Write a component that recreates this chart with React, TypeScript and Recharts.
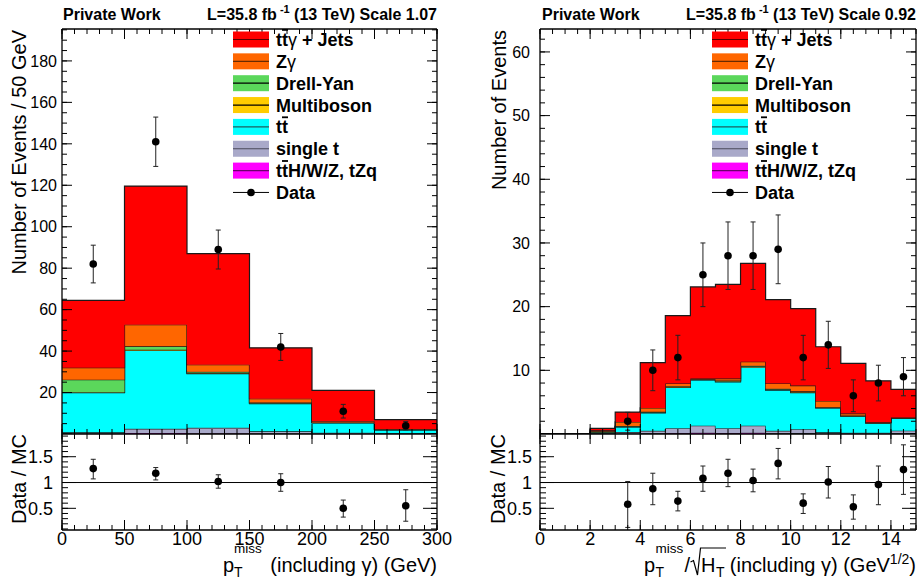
import { ComposedChart, Area, Scatter, ErrorBar, XAxis, YAxis, ReferenceLine } from "recharts";

const FONT = "'Liberation Sans', Arial, Helvetica, sans-serif";

// stacked MC processes, bottom of the stack first
const PROCESSES = [
  { key: "ttV", label: "t{t}H/W/Z, tZq", fill: "#ff00ff", line: "#6e006e" },
  { key: "singleT", label: "single t", fill: "#a9a9c9", line: "#4a4a5a" },
  { key: "ttbar", label: "t{t}", fill: "#00ffff", line: "#1d5f5f" },
  { key: "multiboson", label: "Multiboson", fill: "#ffcc00", line: "#000000" },
  { key: "dy", label: "Drell-Yan", fill: "#5bd75b", line: "#000000" },
  { key: "zg", label: "Zγ", fill: "#ff6600", line: "#6a2a00" },
  { key: "ttg", label: "t{t}γ + Jets", fill: "#ff0000", line: "#5a0000" },
];

// ---- left: pT miss, 50 GeV bins ----
const metEdges = [0, 50, 100, 150, 200, 250, 300];
const metCenters = [25, 75, 125, 175, 225, 275];
const metTtV = [0.2, 0.5, 0.4, 0.3, 0.1, 0.1];
const metSingleT = [0.6, 2.0, 2.6, 1.0, 0.5, 0.3];
const metTT = [19.1, 37.8, 26.1, 13.3, 4.8, 1.6];
const metMultiboson = [0.3, 0.4, 0.3, 0.2, 0.1, 0.05];
const metDY = [6.0, 1.6, 0.6, 0.4, 0.1, 0.05];
const metZg = [5.8, 10.4, 3.4, 1.8, 0.6, 0.3];
const metTTG = [32.5, 66.9, 53.6, 24.6, 14.8, 4.5];
const metData = [82, 141, 89, 42, 11, 4];
const metDataErr = [9.1, 11.9, 9.4, 6.5, 3.3, 2.0];
const metRatio = [1.27, 1.18, 1.02, 1.0, 0.5, 0.55];
const metRatioLo = [1.07, 1.05, 0.89, 0.83, 0.33, 0.25];
const metRatioHi = [1.45, 1.29, 1.15, 1.17, 0.66, 0.86];

// ---- right: pT miss / sqrt(HT), 1 GeV^1/2 bins ----
const sigEdges = [0, 1, 2, 3, 4, 5, 6, 7, 8, 9, 10, 11, 12, 13, 14, 15];
const sigCenters = [3.5, 4.5, 5.5, 6.5, 7.5, 8.5, 9.5, 10.5, 11.5, 12.5, 13.5, 14.5];
const sigTtV = [0, 0, 0.02, 0.05, 0.1, 0.15, 0.2, 0.15, 0.2, 0.1, 0.1, 0.05, 0.05, 0.05, 0.1];
const sigSingleT = [0, 0, 0.1, 0.25, 0.4, 0.75, 1.1, 0.75, 1.1, 0.4, 0.65, 0.22, 0.15, 0.15, 0.42];
const sigTT = [0, 0, 0.1, 0.8, 2.8, 6.4, 7.2, 7.3, 9.2, 6.4, 5.75, 3.83, 2.6, 1.5, 1.93];
const sigMultiboson = [0, 0, 0.05, 0.05, 0.1, 0.1, 0.05, 0.1, 0.1, 0.1, 0.1, 0.05, 0.05, 0.05, 0.05];
const sigDY = [0, 0, 0.15, 0.1, 0.1, 0.1, 0.05, 0.1, 0.1, 0.1, 0.1, 0.05, 0.05, 0.05, 0.05];
const sigZg = [0, 0, 0.15, 0.65, 0.6, 0.45, 0.1, 0.3, 0.65, 0.85, 0.9, 1.0, 0.3, 0.05, 0.05];
const sigTTG = [0, 0, 0.3, 1.55, 7.1, 10.65, 14.4, 14.8, 15.45, 13.15, 12.1, 8.5, 7.9, 6.5, 4.4];
const sigData = [2, 10, 12, 25, 28, 28, 29, 12, 14, 6, 8, 9];
const sigDataErr = [1.4, 3.2, 3.5, 5.0, 5.3, 5.3, 5.4, 3.5, 3.7, 2.5, 2.8, 3.0];
const sigRatio = [0.58, 0.88, 0.64, 1.08, 1.18, 1.04, 1.37, 0.6, 1.01, 0.53, 0.96, 1.25];
const sigRatioLo = [0.13, 0.57, 0.45, 0.83, 0.92, 0.82, 1.07, 0.4, 0.7, 0.29, 0.57, 0.77];
const sigRatioHi = [1.02, 1.18, 0.83, 1.32, 1.45, 1.26, 1.66, 0.78, 1.31, 0.76, 1.32, 1.73];

// tick labels
const metXLabels = [0, 50, 100, 150, 200, 250, 300];
const metYLabels = [20, 40, 60, 80, 100, 120, 140, 160, 180];
const sigXLabels = [0, 2, 4, 6, 8, 10, 12, 14];
const sigYLabels = [10, 20, 30, 40, 50, 60];
const ratioLabels = [0.5, 1, 1.5];

const steps = (a: number, b: number, d: number) => {
  const out: number[] = [];
  for (let v = a; v <= b + 1e-9; v += d) out.push(+v.toFixed(4));
  return out;
};

const metLayers = { ttV: metTtV, singleT: metSingleT, ttbar: metTT, multiboson: metMultiboson, dy: metDY, zg: metZg, ttg: metTTG };
const sigLayers = { ttV: sigTtV, singleT: sigSingleT, ttbar: sigTT, multiboson: sigMultiboson, dy: sigDY, zg: sigZg, ttg: sigTTG };

// one row per bin edge, last edge repeats the last bin so stepAfter closes it
function stepRows(edges: number[], layers: Record<string, number[]>) {
  return edges.map((x, i) => {
    const row: Record<string, number> = { x };
    const k = Math.min(i, edges.length - 2);
    for (const name in layers) row[name] = layers[name][k];
    return row;
  });
}

type Frame = { xDom: number[]; yDom: number[]; xMaj: number[]; xMin: number[]; yMaj: number[]; yMin: number[]; xLen: number[]; yLen: number[] };

// ROOT style frame: inward ticks on all four sides, drawn by mirrored axes of (almost) zero size
const THIN = 0.01;
const noLabel = () => <g />;
function frameAxes(f: Frame) {
  const edge = { stroke: "#000", strokeWidth: 1.3 };
  const tl = { stroke: "#000", strokeWidth: 1 };
  const x = (id: string, o: "top" | "bottom", ticks: number[], len: number, axis: boolean) => (
    <XAxis key={id} xAxisId={id} dataKey="x" orientation={o} mirror height={THIN} type="number" domain={f.xDom} ticks={ticks}
      interval={0} tick={noLabel} tickSize={len} tickLine={tl} axisLine={axis ? edge : false} allowDataOverflow />
  );
  const y = (id: string, o: "left" | "right", ticks: number[], len: number, axis: boolean) => (
    <YAxis key={id} yAxisId={id} orientation={o} mirror width={THIN} type="number" domain={f.yDom} ticks={ticks}
      interval={0} tick={noLabel} tickSize={len} tickLine={tl} axisLine={axis ? edge : false} allowDataOverflow />
  );
  return [
    x("bMaj", "bottom", f.xMaj, f.xLen[0], true),
    x("bMin", "bottom", f.xMin, f.xLen[1], false),
    x("tMaj", "top", f.xMaj, f.xLen[0], true),
    x("tMin", "top", f.xMin, f.xLen[1], false),
    y("lMaj", "left", f.yMaj, f.yLen[0], true),
    y("lMin", "left", f.yMin, f.yLen[1], false),
    y("rMaj", "right", f.yMaj, f.yLen[0], true),
    y("rMin", "right", f.yMin, f.yLen[1], false),
  ];
}

const dot = (p: any) => <circle cx={p.cx} cy={p.cy} r={3.8} fill="#000" />;

function HistPanel(props: any) {
  const { edges, layers, centers, data, err, f, yLabels, yAxisW, mRight, gap } = props;
  const rows = stepRows(edges, layers);
  const pts = centers.map((c: number, i: number) => ({ x: c, y: data[i], e: err[i] }));
  return (
    <ComposedChart width={461} height={434} data={rows} margin={{ top: 29, right: mRight, bottom: 0, left: 0 }}>
      <XAxis xAxisId="main" dataKey="x" type="number" domain={f.xDom} hide allowDataOverflow />
      <YAxis yAxisId="main" type="number" domain={f.yDom} ticks={yLabels} width={yAxisW} interval={0}
        tickLine={false} axisLine={false} tickSize={0} tickMargin={gap} allowDataOverflow
        tick={{ fontSize: 16, fill: "#000", fontFamily: FONT }} />
      {PROCESSES.map((p) => (
        <Area key={p.key} xAxisId="main" yAxisId="main" type="stepAfter" dataKey={p.key} stackId="mc"
          fill={p.fill} fillOpacity={1} stroke="#1a1a1a" strokeWidth={1.2} dot={false} activeDot={false}
          isAnimationActive={false} />
      ))}
      <Scatter xAxisId="main" yAxisId="main" data={pts} dataKey="y" shape={dot} isAnimationActive={false}>
        <ErrorBar dataKey="e" direction="y" width={2.5} stroke="#222" strokeWidth={1} isAnimationActive={false} />
      </Scatter>
      {frameAxes(f)}
    </ComposedChart>
  );
}

function RatioPanel(props: any) {
  const { centers, ratio, lo, hi, f, xLabels, yAxisW, mRight, gap } = props;
  const pts = centers.map((c: number, i: number) => ({ x: c, y: ratio[i], e: [ratio[i] - lo[i], hi[i] - ratio[i]] }));
  return (
    <ComposedChart width={461} height={146} data={pts} margin={{ top: 0, right: mRight, bottom: 0, left: 0 }}>
      <XAxis xAxisId="main" dataKey="x" type="number" domain={f.xDom} ticks={xLabels} height={50} interval={0}
        tickLine={false} axisLine={false} tickSize={0} tickMargin={2} allowDataOverflow
        tick={{ fontSize: 18, fill: "#000", fontFamily: FONT }} />
      <YAxis yAxisId="main" type="number" domain={f.yDom} ticks={ratioLabels} width={yAxisW} interval={0}
        tickLine={false} axisLine={false} tickSize={0} tickMargin={gap} allowDataOverflow
        tick={{ fontSize: 18, fill: "#000", fontFamily: FONT }} />
      <ReferenceLine xAxisId="main" yAxisId="main" y={1} stroke="#000" strokeWidth={1} />
      <Scatter xAxisId="main" yAxisId="main" data={pts} dataKey="y" shape={dot} isAnimationActive={false}>
        <ErrorBar dataKey="e" direction="y" width={2.5} stroke="#222" strokeWidth={1} isAnimationActive={false} />
      </Scatter>
      {frameAxes(f)}
    </ComposedChart>
  );
}

function rich(label: string) {
  return label.split(/(\{t\}|γ)/).filter(Boolean).map((seg, i) =>
    seg === "{t}" ? (
      <tspan key={i} style={{ textDecoration: "overline" }}>t</tspan>
    ) : seg === "γ" ? (
      <tspan key={i} fontWeight="normal">γ</tspan>
    ) : (
      <tspan key={i}>{seg}</tspan>
    )
  );
}

function LegendBlock({ x, top }: { x: number; top: number }) {
  const rowH = 21.85;
  const entries = [...PROCESSES].reverse();
  const dataY = top + entries.length * rowH;
  return (
    <g fontFamily={FONT} fontWeight="bold" fontSize={18}>
      {entries.map((p, i) => {
        const cy = top + i * rowH;
        return (
          <g key={p.key}>
            <rect x={x} y={cy - 8} width={36} height={16} fill={p.fill} />
            <line x1={x} x2={x + 36} y1={cy} y2={cy} stroke={p.line} strokeWidth={1.2} />
            <text x={x + 43} y={cy + 6.5}>{rich(p.label)}</text>
          </g>
        );
      })}
      <line x1={x} x2={x + 36} y1={dataY} y2={dataY} stroke="#000" strokeWidth={1} />
      <circle cx={x + 18} cy={dataY} r={3.8} fill="#000" />
      <text x={x + 43} y={dataY + 6.5}>Data</text>
    </g>
  );
}

function Header({ x0, x1, scale }: { x0: number; x1: number; scale: string }) {
  return (
    <g fontFamily={FONT} fontWeight="bold" fontSize={16}>
      <text x={x0} y={20}>Private Work</text>
      <text x={x1} y={20} textAnchor="end">
        L=35.8 fb
        <tspan dx={3} dy={-7} fontSize={11}>-1</tspan>
        <tspan dy={7}>{` (13 TeV) Scale ${scale}`}</tspan>
      </text>
    </g>
  );
}

const metTop: Frame = {
  xDom: [0, 300], yDom: [0, 195.4], xMaj: metXLabels, xMin: steps(0, 300, 10),
  yMaj: steps(0, 180, 20), yMin: steps(0, 195, 5), xLen: [10, 5], yLen: [10, 5],
};
const metBot: Frame = {
  xDom: [0, 300], yDom: [0.08, 1.94], xMaj: metXLabels, xMin: steps(0, 300, 10),
  yMaj: ratioLabels, yMin: steps(0.1, 1.9, 0.1), xLen: [10, 5], yLen: [14, 6],
};
const sigTop: Frame = {
  xDom: [0, 15], yDom: [0, 63.6], xMaj: sigXLabels, xMin: steps(0, 15, 0.5),
  yMaj: steps(0, 60, 10), yMin: steps(0, 62, 2), xLen: [10, 5], yLen: [10, 5],
};
const sigBot: Frame = {
  xDom: [0, 15], yDom: [0.08, 1.94], xMaj: sigXLabels, xMin: steps(0, 15, 0.5),
  yMaj: ratioLabels, yMin: steps(0.1, 1.9, 0.1), xLen: [10, 5], yLen: [14, 6],
};

export default function App() {
  return (
    <div style={{ position: "absolute", left: 0, top: 0, width: 922, height: 580, background: "#fff", overflow: "hidden" }}>
      <div style={{ position: "absolute", left: 0, top: 0 }}>
        <HistPanel edges={metEdges} layers={metLayers} centers={metCenters} data={metData} err={metDataErr}
          f={metTop} yLabels={metYLabels} yAxisW={62} mRight={24} gap={5} />
      </div>
      <div style={{ position: "absolute", left: 0, top: 434 }}>
        <RatioPanel centers={metCenters} ratio={metRatio} lo={metRatioLo} hi={metRatioHi}
          f={metBot} xLabels={metXLabels} yAxisW={62} mRight={24} gap={9} />
      </div>
      <div style={{ position: "absolute", left: 461, top: 0 }}>
        <HistPanel edges={sigEdges} layers={sigLayers} centers={sigCenters} data={sigData} err={sigDataErr}
          f={sigTop} yLabels={sigYLabels} yAxisW={79} mRight={6} gap={10} />
      </div>
      <div style={{ position: "absolute", left: 461, top: 434 }}>
        <RatioPanel centers={sigCenters} ratio={sigRatio} lo={sigRatioLo} hi={sigRatioHi}
          f={sigBot} xLabels={sigXLabels} yAxisW={79} mRight={6} gap={8} />
      </div>

      <svg width={922} height={580} style={{ position: "absolute", left: 0, top: 0, pointerEvents: "none" }}>
        <Header x0={63} x1={437} scale="1.07" />
        <Header x0={542} x1={916} scale="0.92" />
        <LegendBlock x={233} top={39.5} />
        <LegendBlock x={712} top={39.5} />

        <g fontFamily={FONT} fontSize={20} fill="#000">
          {/* y titles */}
          <text x={25.5} y={30} textAnchor="end" transform="rotate(-90 25.5 30)">Number of Events / 50 GeV</text>
          <text x={26} y={434} textAnchor="end" transform="rotate(-90 26 434)">Data / MC</text>
          <text x={506} y={30} textAnchor="end" transform="rotate(-90 506 30)">Number of Events</text>
          <text x={504.5} y={434} textAnchor="end" transform="rotate(-90 504.5 434)">Data / MC</text>

          {/* x title, left */}
          <text x={223} y={572}>p</text>
          <text x={234} y={577} fontSize={14}>T</text>
          <text x={234} y={553} fontSize={13.5}>miss</text>
          <text x={437} y={572} textAnchor="end">(including γ) (GeV)</text>

          {/* x title, right */}
          <text x={644} y={572}>p</text>
          <text x={655.5} y={577} fontSize={14}>T</text>
          <text x={655.5} y={553} fontSize={13.5}>miss</text>
          <text x={684.5} y={572}>/</text>
          <path d="M 690.5 562 L 693.5 560.5 L 697.5 575 L 700.5 548 H 726" fill="none" stroke="#000" strokeWidth={1.2} />
          <text x={701} y={572}>H</text>
          <text x={716} y={577} fontSize={14}>T</text>
          <text x={916} y={572} textAnchor="end">
            (including γ) (GeV
            <tspan dy={-8} fontSize={14}>1/2</tspan>
            <tspan dy={8}>)</tspan>
          </text>
        </g>
      </svg>
    </div>
  );
}
